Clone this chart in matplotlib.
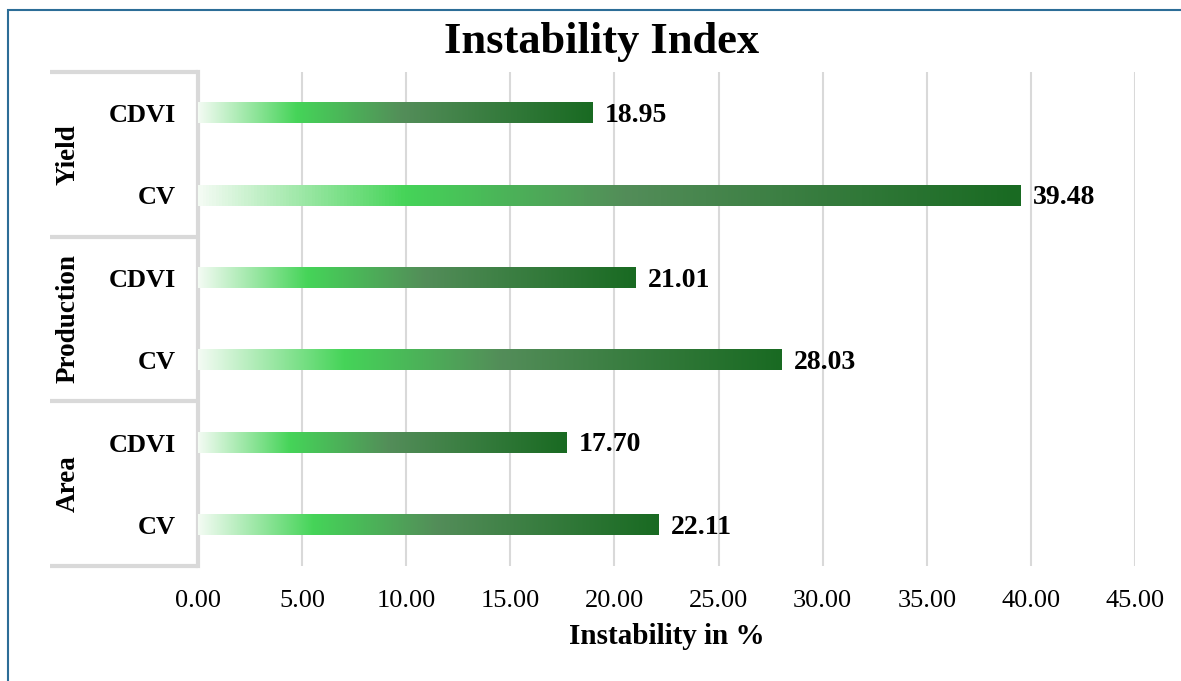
import numpy as np
import matplotlib
matplotlib.use("Agg")
import matplotlib.pyplot as plt
from matplotlib.colors import LinearSegmentedColormap
from matplotlib.patches import Rectangle

plt.rcParams['font.family'] = ['Liberation Serif', 'DejaVu Serif']

# groups from bottom to top, two indices each
groups = ['Area', 'Production', 'Yield']
measures = ['CV', 'CDVI']
values = {
    'Area': [22.11, 17.70],
    'Production': [28.03, 21.01],
    'Yield': [39.48, 18.95],
}
xticks = np.arange(0, 50, 5)

# light -> bright green -> grey green -> dark green
cmap = LinearSegmentedColormap.from_list(
    'bar_green',
    [(0.0, '#f3fbf3'), (0.25, '#45d458'), (0.52, '#538d59'), (1.0, '#196a22')])
grad = np.linspace(0, 1, 256).reshape(1, -1)

fig = plt.figure(figsize=(11.81, 6.81), dpi=100)
ax = fig.add_axes([198 / 1181, 1 - 566 / 681, (1135 - 198) / 1181, (566 - 72) / 681])

labels = []
ypos = 0
bar_h = 0.245
for g in groups:
    for m, v in zip(measures, values[g]):
        ax.imshow(grad, cmap=cmap, aspect='auto', interpolation='bilinear',
                  extent=[0, v, ypos - bar_h / 2, ypos + bar_h / 2], zorder=3)
        ax.text(v + 0.6, ypos - 0.03, f'{v:.2f}', va='center', ha='left',
                fontsize=20, fontweight='bold', zorder=4)
        labels.append(m)
        ypos += 1

ax.set_xlim(0, 45)
ax.set_ylim(-0.5, len(labels) - 0.5)
ax.set_xticks(xticks)
ax.set_xticklabels([f'{t:.2f}' for t in xticks], fontsize=19)
ax.set_yticks(range(len(labels)))
ax.set_yticklabels(labels, fontsize=19, fontweight='bold')
ax.tick_params(axis='both', length=0)
ax.tick_params(axis='x', pad=17)
ax.tick_params(axis='y', pad=16)
ax.grid(axis='x', color='#d9d9d9', linewidth=1.5, zorder=0)
ax.set_axisbelow(True)
for s in ['top', 'right', 'bottom']:
    ax.spines[s].set_visible(False)
ax.spines['left'].set_color('#d9d9d9')
ax.spines['left'].set_linewidth(3)

ax.set_xlabel('Instability in %', fontsize=21, fontweight='bold', labelpad=8)

# group separators and group names on the left
trans = ax.get_yaxis_transform()
x_left = (50 - 198) / (1135 - 198)
for k in range(len(groups) + 1):
    yb = 2 * k - 0.5
    ax.plot([x_left, 0], [yb, yb], transform=trans, color='#d9d9d9',
            linewidth=3, clip_on=False, solid_capstyle='butt')
for k, g in enumerate(groups):
    ax.text((68 - 198) / (1135 - 198), 2 * k + 0.5, g, transform=trans,
            rotation=90, ha='center', va='center', fontsize=19.5, fontweight='bold')

fig.text(602 / 1181, 1 - 42 / 681, 'Instability Index', ha='center', va='center',
         fontsize=32, fontweight='bold')

# outer frame
fig.patches.append(Rectangle((8 / 1181, -0.1), 1.2, 1 - 10 / 681 + 0.1,
                             transform=fig.transFigure, fill=False,
                             edgecolor='#2c6d97', linewidth=1.5))

fig.savefig('out.png', dpi=100)
